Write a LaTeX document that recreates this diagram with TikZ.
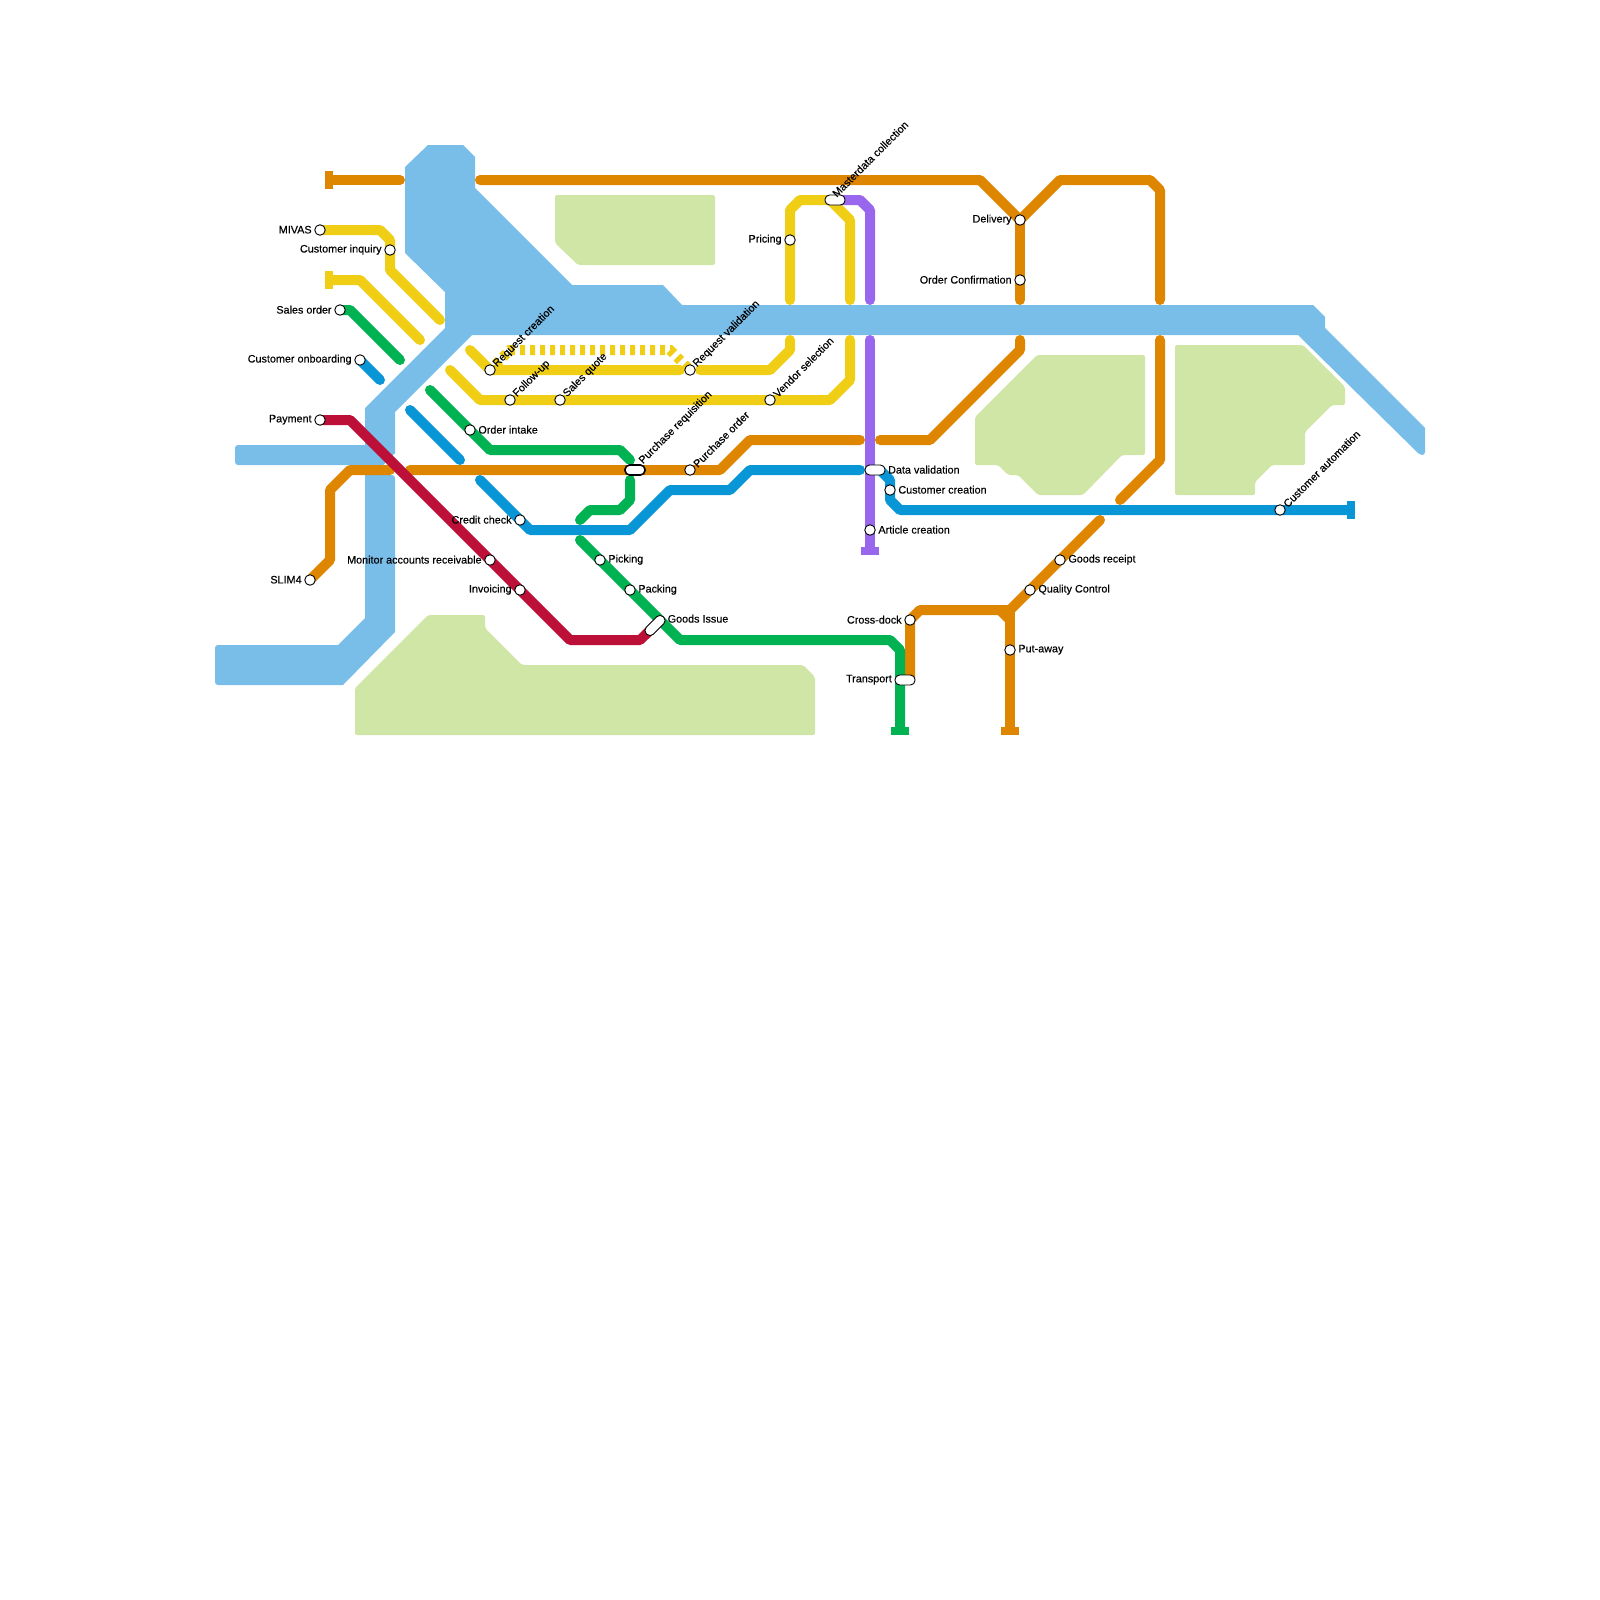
\documentclass[tikz,border=0pt]{standalone}
\usepackage{fontspec}
\setmainfont{Liberation Sans}
\newfontfamily\lblfont[FakeBold=0.3]{Liberation Sans}
\usetikzlibrary{positioning,backgrounds}
\definecolor{cWater}{HTML}{79BDE9}
\definecolor{cLand}{HTML}{D0E6A6}
\definecolor{cOrange}{HTML}{DF8600}
\definecolor{cYellow}{HTML}{F0CE15}
\definecolor{cGreen}{HTML}{00B251}
\definecolor{cBlue}{HTML}{0896D7}
\definecolor{cRed}{HTML}{BD1038}
\definecolor{cPurple}{HTML}{9966EE}
\begin{document}
\begin{tikzpicture}[x=1pt, y=-1pt,
  rail/.style={line width=10pt, line cap=round, line join=round},
  stn/.style={circle, draw=black, fill=white, line width=0.9pt, minimum size=10.5pt, inner sep=0pt},
  pill/.style={rectangle, rounded corners=4.6pt, draw=black, fill=white, line width=0.9pt, minimum width=20pt, minimum height=10pt, inner sep=0pt},
  endbar/.style={rectangle, minimum width=8pt, minimum height=18pt, inner sep=0pt},
  endbarflat/.style={rectangle, minimum width=18pt, minimum height=8pt, inner sep=0pt},
  lbl/.style={font=\lblfont\fontsize{10.8}{12}\selectfont, inner sep=0pt, text=black, yshift=0.3pt},
  land/.style={fill=cLand, rounded corners=2pt},
  node distance=2.5pt]
  \useasboundingbox (0,0) rectangle (1600,1600);
  % Stations with the label on the left
  \foreach \id/\x/\y/\txt in {mivas/320/230/MIVAS, inquiry/390/250/Customer inquiry, salesorder/340/310/Sales order, onboarding/360/360/Customer onboarding, payment/320/420/Payment, slim/310/580/SLIM4, creditcheck/520/520/Credit check, monitor/490/560/Monitor accounts receivable, invoicing/520/590/Invoicing, pricing/790/240/Pricing, delivery/1020/220/Delivery, confirmation/1020/280/Order Confirmation, crossdock/910/620/Cross-dock} {
    \node[stn] (\id) at (\x,\y) {};
    \node[lbl, left=of \id] (\id-text) {\txt};
  }
  % Stations with the label on the right
  \foreach \id/\x/\y/\txt in {orderintake/470/430/Order intake, picking/600/560/Picking, packing/630/590/Packing, custcreation/890/490/Customer creation, article/870/530/Article creation, goodsreceipt/1060/560/Goods receipt, quality/1030/590/Quality Control, putaway/1010/650/Put-away} {
    \node[stn] (\id) at (\x,\y) {};
    \node[lbl, right=of \id] (\id-text) {\txt};
  }
  % Stations with a slanted label
  \foreach \id/\x/\y/\txt in {reqcreation/490/370/Request creation, followup/510/400/Follow-up, salesquote/560/400/Sales quote, reqvalidation/690/370/Request validation, purchorder/690/470/Purchase order, vendor/770/400/Vendor selection, automation/1280/510/Customer automation} {
    \node[stn] (\id) at (\x,\y) {};
    \node[lbl, rotate=45, anchor=west] (\id-text) at (\x+5,\y-4.2) {\txt};
  }
  % Interchanges
  \node[pill, line width=1.6pt] (requisition) at (635,470) {};
  \node[lbl, rotate=45, anchor=west] (requisition-text) at (641,462.8) {Purchase requisition};
  \node[pill] (masterdata) at (835,200) {};
  \node[lbl, rotate=45, anchor=west] (masterdata-text) at (834,195.5) {Masterdata collection};
  \node[pill] (datavalid) at (875,470) {};
  \node[lbl, right=of datavalid] (datavalid-text) {Data validation};
  \node[pill] (transport) at (905,680) {};
  \node[lbl, left=of transport] (transport-text) {Transport};
  \node[pill, rotate=45, minimum width=24pt] (goodsissue) at (655,625.5) {};
  \node[lbl, anchor=west] (goodsissue-text) at (667.5,619) {Goods Issue};
  % Line ends
  \node[endbar, fill=cOrange] (endA) at (329,180) {};
  \node[endbar, fill=cYellow] (endB) at (329,280) {};
  \node[endbar, fill=cBlue] (endC) at (1351,510) {};
  \node[endbarflat, fill=cPurple] (endD) at (870,551) {};
  \node[endbarflat, fill=cGreen] (endE) at (900,731) {};
  \node[endbarflat, fill=cOrange] (endF) at (1010,731) {};
  \begin{scope}[on background layer]
    % Water
    \fill[cWater] (405,167) -- (428,145) -- (463,145) -- (475,157) -- (475,188) -- (572,285) -- (663,285) -- (682,305) -- (1313,305) -- (1325,317) -- (1325,328) -- (1425,428) -- (1425,450) [rounded corners=3pt] -- (1425,455) -- (1420,455) [sharp corners] -- (1298,335) -- (472,335) -- (395,412) -- (395,453) -- (383,465) -- (365,445) -- (365,408) -- (445,328) -- (445,292) -- (405,253) -- cycle;
    \fill[cWater, rounded corners=3pt] (235,445) rectangle (385,465);
    \fill[cWater, rounded corners=3pt] (365,475) -- (395,475) [sharp corners] -- (395,632) -- (343,685) [rounded corners=3pt] -- (215,685) -- (215,645) [sharp corners] -- (338,645) -- (365,618) -- cycle;
    % Land
    \fill[land] (555,195) -- (715,195) -- (715,265) -- (578,265) -- (555,243) -- cycle;
    \fill[land] (355,688) -- (428,615) -- (485,615) -- (485,628) -- (522,665) -- (803,665) -- (815,677) -- (815,735) -- (355,735) -- cycle;
    \fill[land] (975,417) -- (1037,355) -- (1145,355) -- (1145,455) -- (1122,455) -- (1083,495) -- (1038,495) -- (1018,475) -- (1008,475) -- (998,465) -- (975,465) -- cycle;
    \fill[land] (1175,345) -- (1303,345) -- (1345,387) -- (1345,405) -- (1332,405) -- (1305,432) -- (1305,465) -- (1272,465) -- (1255,482) -- (1255,495) -- (1175,495) -- cycle;
    % Orange lines
    \draw[rail, cOrange] (endA.east) -- (400,180);
    \draw[rail, cOrange] (480,180) -- (980,180) -- (delivery.center) -- (1060,180) -- (1150,180) -- (1160,190) -- (1160,300);
    \draw[rail, cOrange] (delivery.center) -- (confirmation.center) -- (1020,300);
    \draw[rail, cOrange] (1020,340) -- (1020,350) -- (930,440) -- (880,440);
    \draw[rail, cOrange] (860,440) -- (750,440) -- (720,470) -- (purchorder.center) -- (requisition.center) -- (410,470);
    \draw[rail, cOrange] (390,470) -- (350,470) -- (330,490) -- (330,560) -- (slim.center);
    \draw[rail, cOrange] (1160,340) -- (1160,460) -- (1120,500);
    \draw[rail, cOrange] (1100,520) -- (goodsreceipt.center) -- (quality.center) -- (1010,610) -- (920,610) -- (crossdock.center) -- (910,680);
    \draw[rail, cOrange] (endF.north) -- (putaway.center) -- (1010,610);
    \draw[rail, cOrange] (1010,620) -- (1000,610);
    % Yellow lines
    \draw[rail, cYellow] (mivas.center) -- (380,230) -- (390,240) -- (inquiry.center) -- (390,270) -- (440,320);
    \draw[rail, cYellow] (endB.east) -- (360,280) -- (420,340);
    \draw[rail, cYellow] (470,350) -- (reqcreation.center) -- (680,370);
    \draw[cYellow, line width=10pt, dash pattern=on 5pt off 5pt, dash phase=1.72pt] (reqcreation.center) -- (510,350) -- (670,350) -- (reqvalidation.center);
    \draw[rail, cYellow] (700,370) -- (770,370) -- (790,350) -- (790,340);
    \draw[rail, cYellow] (450,370) -- (480,400) -- (followup.center) -- (salesquote.center) -- (vendor.center) -- (830,400) -- (850,380) -- (850,340);
    \draw[rail, cYellow] (790,300) -- (pricing.center) -- (790,210) -- (800,200) -- (masterdata.center);
    \draw[rail, cYellow] (830,200) -- (850,220) -- (850,300);
    % Blue lines
    \draw[rail, cBlue] (onboarding.center) -- (380,380);
    \draw[rail, cBlue] (410,410) -- (460,460);
    \draw[rail, cBlue] (480,480) -- (creditcheck.center) -- (530,530) -- (630,530) -- (670,490) -- (730,490) -- (750,470) -- (860,470);
    \draw[rail, cBlue] (datavalid.center) -- (880,470) -- (890,480) -- (custcreation.center) -- (890,500) -- (900,510) -- (automation.center) -- (endC.west);
    % Green lines
    \draw[rail, cGreen] (salesorder.center) -- (350,310) -- (400,360);
    \draw[rail, cGreen] (430,390) -- (orderintake.center) -- (490,450) -- (620,450) -- (630,460);
    \draw[rail, cGreen] (630,480) -- (630,500) -- (620,510) -- (590,510) -- (580,520);
    % Purple lines
    \draw[rail, cPurple] (masterdata.center) -- (860,200) -- (870,210) -- (870,300);
    \draw[rail, cPurple] (870,340) -- (article.center) -- (endD.north);
    % Red line
    \draw[rail, cRed] (payment.center) -- (350,420) -- (monitor.center) -- (invoicing.center) -- (570,640) -- (640,640) -- (goodsissue.center);
    % Green line to the terminus
    \draw[rail, cGreen] (580,540) -- (picking.center) -- (packing.center) -- (680,640) -- (890,640) -- (900,650) -- (endE.north);
  \end{scope}
\end{tikzpicture}
\end{document}
